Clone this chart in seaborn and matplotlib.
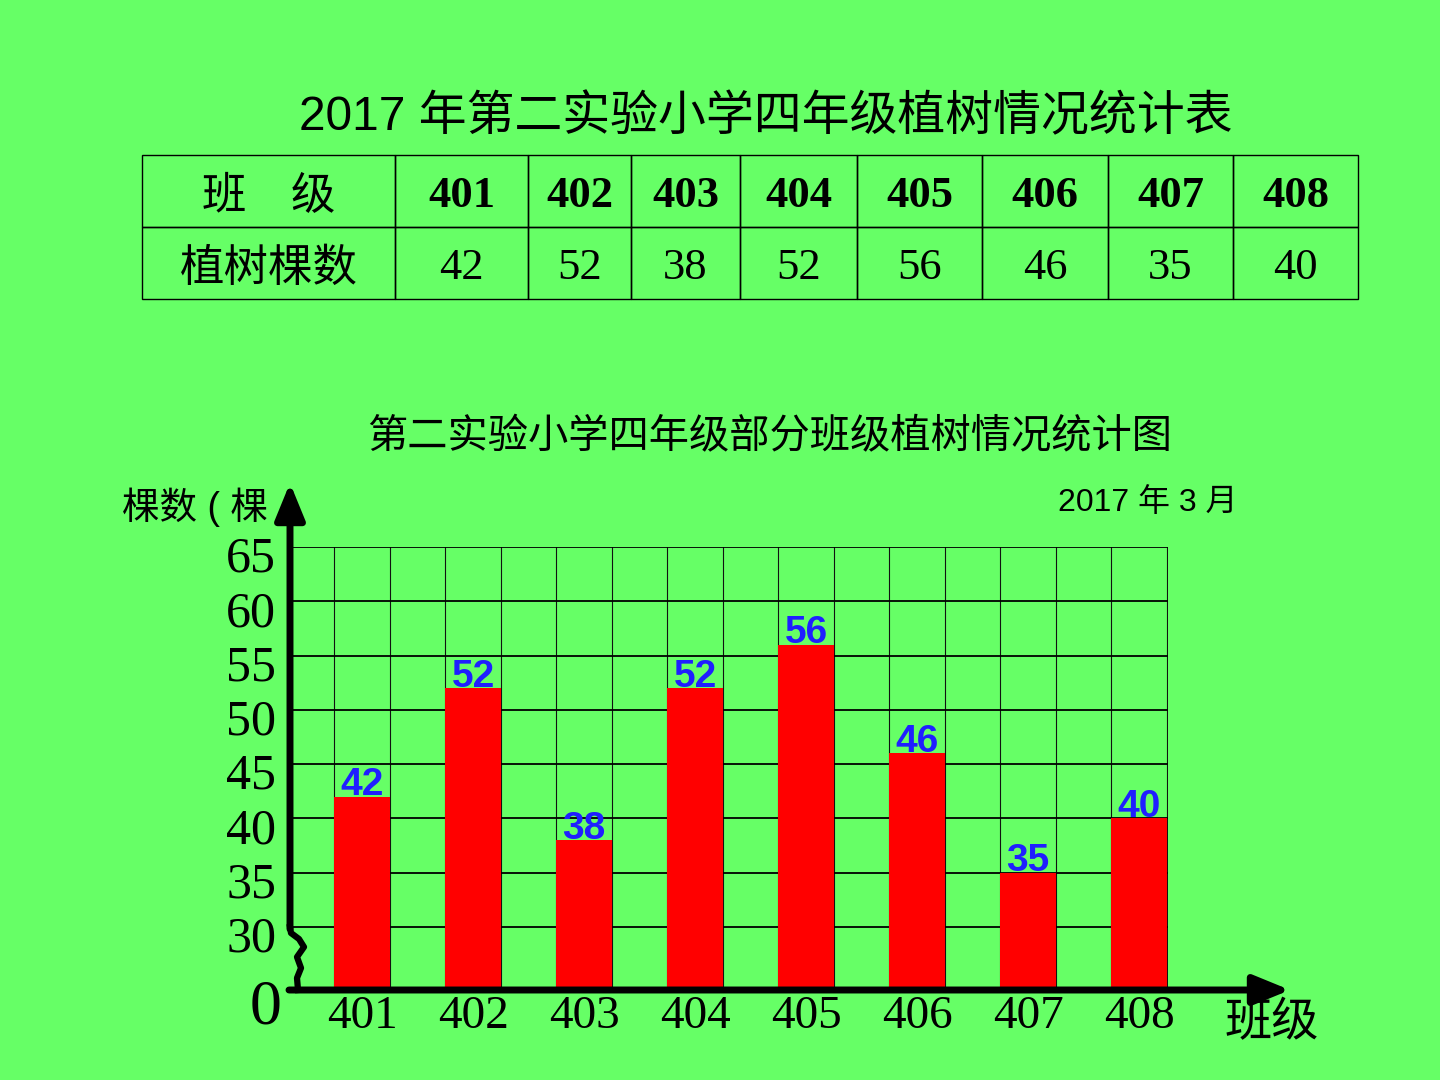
import numpy as np
import pandas as pd
import matplotlib
matplotlib.use('Agg')
import matplotlib.pyplot as plt
import matplotlib.transforms as mtransforms
import seaborn as sns

# data
classes = ['401', '402', '403', '404', '405', '406', '407', '408']
trees = [42, 52, 38, 52, 56, 46, 35, 40]
y_ticks = [30, 35, 40, 45, 50, 55, 60, 65]

bg = '#66FF66'
plt.rcParams['font.family'] = ['Liberation Sans', 'Noto Sans CJK SC']

fig = plt.figure(figsize=(14.4, 10.8), dpi=100, facecolor=bg)

# title of the table
fig.text(766 / 1440, 1 - 118 / 1080, '2017 年第二实验小学四年级植树情况统计表',
         ha='center', va='center', fontsize=34.5)

# table
tab_ax = fig.add_axes([142 / 1440, 1 - 299 / 1080, 1216 / 1440, 144 / 1080])
tab_ax.axis('off')
header = ['班　级'] + classes
row = ['植树棵数'] + [str(v) for v in trees]
col_w = [253, 133, 103, 109, 117, 125, 126, 125, 125]
tbl = tab_ax.table(cellText=[header, row], colWidths=[w / sum(col_w) for w in col_w],
                   cellLoc='center', bbox=[0, 0, 1, 1])
tbl.auto_set_font_size(False)
shift = mtransforms.offset_copy(mtransforms.IdentityTransform(), fig=fig, y=-5, units='dots')
for (r, c), cell in tbl.get_celld().items():
    cell.set_facecolor('none')
    cell.set_edgecolor('black')
    cell.set_linewidth(1)
    txt = cell.get_text()
    txt.set_transform(shift)
    if c == 0:
        txt.set_fontfamily(['Noto Sans CJK SC'])
        txt.set_fontsize(32)
    else:
        txt.set_fontfamily(['Liberation Serif'])
        txt.set_fontsize(32)
        if r == 0:
            txt.set_fontweight('bold')

# bar chart
ax = fig.add_axes([290 / 1440, 90 / 1080, 878 / 1440, 443 / 1080])
ax.set_facecolor('none')
df = pd.DataFrame({'班级': classes, '棵数': trees})
sns.barplot(data=df, x='班级', y='棵数', color='#FF0000', saturation=1, width=0.51,
            ax=ax, zorder=3)
ax.set_xlim(-0.65, 7.26)
ax.set_ylim(24.2, 65)
ax.set_xlabel('')
ax.set_ylabel('')
for s in ax.spines.values():
    s.set_visible(False)

ax.set_yticks(y_ticks)
ax.set_yticklabels([])
ax.set_xticks(range(len(classes)))
ax.set_xticklabels(classes, fontfamily='Liberation Serif', fontsize=34)
ax.set_xticks(np.arange(-0.25, 7.5, 0.5), minor=True)
ax.tick_params(which='both', length=0)
ax.tick_params(axis='x', pad=4)
ax.set_axisbelow(True)
ax.grid(axis='y', which='major', color='black', lw=1.3)
ax.grid(axis='x', which='minor', color='#111111', lw=0.8)
ax.grid(axis='x', which='major', visible=False)

for t in y_ticks:
    ax.annotate(str(t), xy=(0, t), xycoords=('axes fraction', 'data'),
                xytext=(-10, -9), textcoords='offset points', ha='right', va='center',
                fontfamily='Liberation Serif', fontsize=36)
fig.text(266 / 1440, 1 - 1008 / 1080, '0', ha='center', va='center',
         fontfamily='Liberation Serif', fontsize=46)

for i, v in enumerate(trees):
    ax.annotate(str(v), xy=(i, v), xytext=(0, 1), textcoords='offset points',
                ha='center', va='baseline', color='#1f1fff', fontweight='bold',
                fontsize=28, fontfamily='Liberation Sans', zorder=6)


def fx(px):
    return (px - 290) / 878


def fy(py):
    return (990 - py) / 443


arrow = dict(arrowstyle='-|>,head_length=1.1,head_width=0.45', lw=5, color='black',
             shrinkA=0, shrinkB=0, mutation_scale=20)
ax.annotate('', xy=(0, fy(483)), xytext=(0, fy(929)), xycoords='axes fraction',
            arrowprops=arrow, annotation_clip=False, zorder=5)
ax.annotate('', xy=(fx(1290), 0), xytext=(fx(289), 0), xycoords='axes fraction',
            arrowprops=arrow, annotation_clip=False, zorder=5)
sq_x = [290, 291, 299, 304, 297, 301, 297, 298]
sq_y = [927, 933, 939, 947, 957, 968, 978, 990]
ax.plot([fx(p) for p in sq_x], [fy(p) for p in sq_y], transform=ax.transAxes,
        clip_on=False, color='black', lw=4.5, solid_joinstyle='round', zorder=5)

# labels around the chart
fig.text(770 / 1440, 1 - 437 / 1080, '第二实验小学四年级部分班级植树情况统计图',
         ha='center', va='center', fontsize=29)
fig.text(195 / 1440, 1 - 507 / 1080, '棵数 ( 棵', ha='center', va='center', fontsize=27)
fig.text(1148 / 1440, 1 - 503 / 1080, '2017 年 3 月', ha='center', va='center', fontsize=23)
fig.text(1272 / 1440, 1 - 1024 / 1080, '班级', ha='center', va='center', fontsize=34)

fig.savefig('out.png', dpi=100, facecolor=bg)
